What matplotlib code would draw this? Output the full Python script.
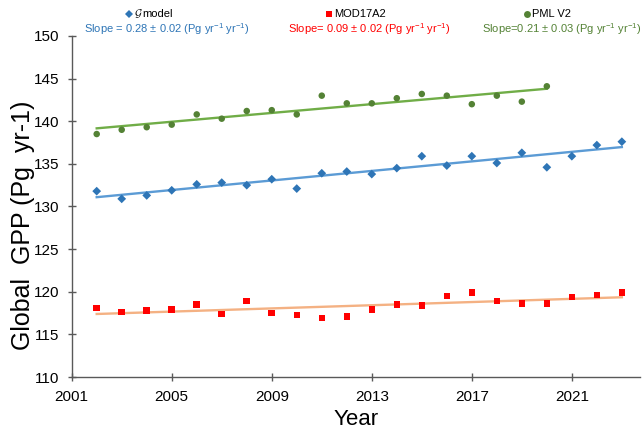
import matplotlib
matplotlib.use('Agg')

import numpy as np
import matplotlib.pyplot as plt
from matplotlib.lines import Line2D

plt.rcParams['font.family'] = 'Liberation Sans'
plt.rcParams['mathtext.fontset'] = 'custom'
plt.rcParams['mathtext.rm'] = 'Liberation Sans'
plt.rcParams['mathtext.it'] = 'Liberation Sans:italic'

# annual global GPP (Pg yr-1)
years_g = list(range(2002, 2024))
gpp_g = [131.8, 130.9, 131.3, 131.9, 132.6, 132.8, 132.5, 133.2, 132.1, 133.9, 134.1,
         133.8, 134.5, 135.9, 134.8, 135.9, 135.1, 136.3, 134.6, 135.9, 137.2, 137.6]

years_mod = list(range(2002, 2024))
gpp_mod = [118.1, 117.6, 117.8, 117.9, 118.5, 117.4, 118.9, 117.5, 117.3, 116.9, 117.1,
           117.9, 118.5, 118.4, 119.5, 119.9, 118.9, 118.6, 118.6, 119.4, 119.6, 119.9]

years_pml = list(range(2002, 2021))
gpp_pml = [138.5, 139.0, 139.3, 139.6, 140.8, 140.3, 141.2, 141.3, 140.8, 143.0, 142.1,
           142.1, 142.7, 143.2, 143.0, 142.0, 143.0, 142.3, 144.1]

series = [
    (years_g, gpp_g, 'D', '#2E75B6', '#5B9BD5'),
    (years_mod, gpp_mod, 's', '#FF0000', '#F4B183'),
    (years_pml, gpp_pml, 'o', '#548235', '#70AD47'),
]

fig = plt.figure(figsize=(6.43, 4.32), dpi=100)
ax = fig.add_axes([0.1115, 0.1273, 0.884, 0.7894])

for yrs, vals, mk, mc, lc in series:
    yrs = np.array(yrs)
    vals = np.array(vals)
    k, b = np.polyfit(yrs, vals, 1)
    ax.plot(yrs, k * yrs + b, color=lc, linewidth=1.7, zorder=2)
    ax.scatter(yrs, vals, marker=mk, s=22 if mk != 'D' else 20, color=mc,
               edgecolors='none', zorder=3)

ax.set_xlim(2001, 2023.73)
ax.set_ylim(110, 150)
ax.set_xticks([2001, 2005, 2009, 2013, 2017, 2021])
ax.set_yticks(range(110, 151, 5))
for s in ['top', 'right']:
    ax.spines[s].set_visible(False)
for s in ['left', 'bottom']:
    ax.spines[s].set_color('#595959')
    ax.spines[s].set_linewidth(1.0)
ax.tick_params(axis='both', direction='inout', length=6, width=1.0,
               color='#595959', labelsize=11, pad=6)
ax.set_xlabel('Year', fontsize=16, labelpad=4)
ax.set_ylabel('Global  GPP (Pg  yr-1)', fontsize=18)
ax.yaxis.set_label_coords(-0.064, 0.445)

# legend row across the top
W, H = 643, 432
def fx(px):
    return px / W
def fy(py):
    return 1 - py / H

legend_items = [
    (129, 'D', '#2E75B6', None),
    (329, 's', '#FF0000', 'MOD17A2'),
    (527, 'o', '#548235', 'PML V2'),
]
for px, mk, mc, label in legend_items:
    fig.add_artist(Line2D([fx(px)], [fy(14)], marker=mk, color=mc, linestyle='none',
                          markersize=4 if mk == 'D' else 5, markeredgewidth=0,
                          transform=fig.transFigure))
    if label:
        fig.text(fx(px + 5), fy(14), label, fontsize=8, va='center', ha='left')
fig.text(fx(134), fy(14), r'$\mathcal{G}$', fontsize=8, va='center', ha='left',
         math_fontfamily='cm')
fig.text(fx(142), fy(14), 'model', fontsize=8, va='center', ha='left')

unit = r'(Pg yr$^{-1}$ yr$^{-1}$)'
fig.text(fx(84), fy(29), 'Slope = 0.28 \u00b1 0.02 ' + unit, fontsize=8,
         color='#2E75B6', va='center', ha='left')
fig.text(fx(288), fy(29), 'Slope= 0.09 \u00b1 0.02 ' + unit, fontsize=8,
         color='#FF0000', va='center', ha='left')
fig.text(fx(641), fy(29), 'Slope=0.21 \u00b1 0.03 ' + unit, fontsize=8,
         color='#548235', va='center', ha='right')

plt.savefig('out.png', dpi=100)
